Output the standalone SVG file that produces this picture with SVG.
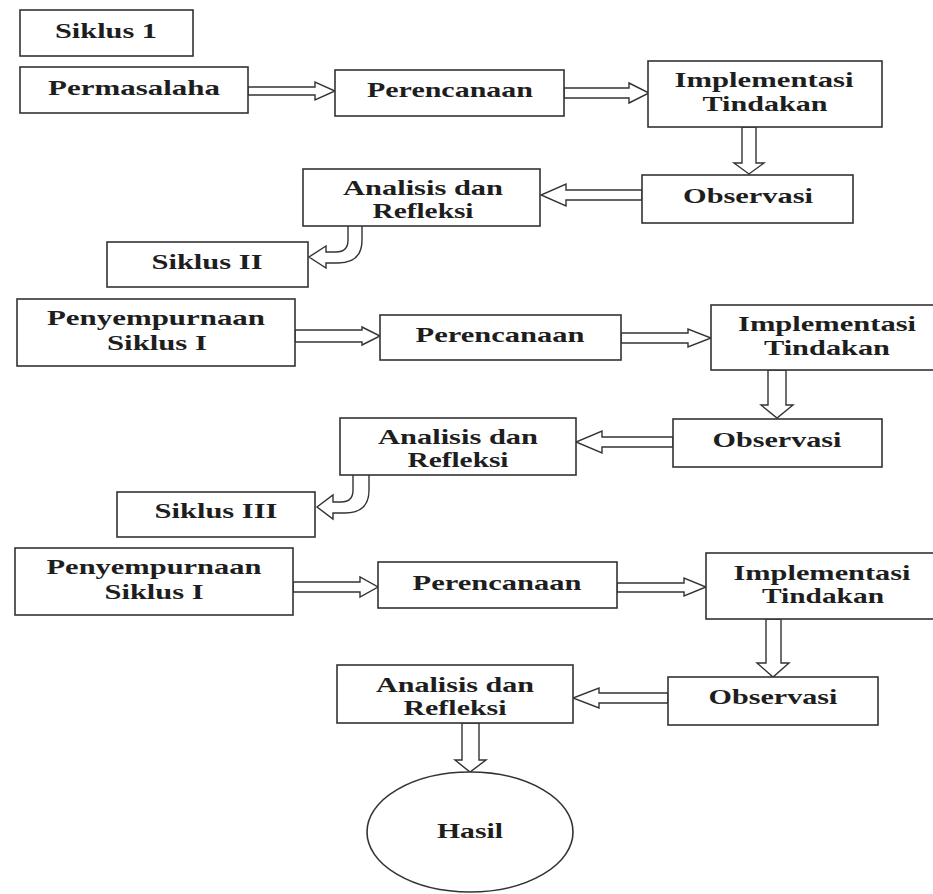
<svg xmlns="http://www.w3.org/2000/svg" width="933" height="894" viewBox="0 0 933 894">
<style>
.box{fill:#fff;stroke:#333;stroke-width:1.6}
.arr{fill:#fff;stroke:#333;stroke-width:1.4;stroke-linejoin:miter}
text{font-family:"Liberation Serif","Times New Roman",serif;font-weight:bold;font-size:22px;fill:#1e1e1e;text-anchor:middle}
</style>
<rect width="933" height="894" fill="#fff"/>
<g id="connectors">
<path class="arr" d="M248,87 L315,87 L315,82 L335,91 L315,100 L315,95 L248,95 Z"/>
<path class="arr" d="M564,88 L629,88 L629,83 L649,93 L629,103 L629,98 L564,98 Z"/>
<path class="arr" d="M742,127 L742,163 L734,163 L749,174 L764,163 L756,163 L756,127 Z"/>
<path class="arr" d="M642,190 L566,190 L566,184 L541,195 L566,206 L566,200 L642,200 Z"/>
<path class="arr" d="M348,226 L348,240 Q348,252 336,252 L326,252 L326,246 L309,257 L326,268 L326,263 L338,263 Q362,263 362,240 L362,226"/>
<path class="arr" d="M295,330 L362,330 L362,327 L380,336 L362,345 L362,342 L295,342 Z"/>
<path class="arr" d="M621,333 L688,333 L688,329 L711,338 L688,347 L688,343 L621,343 Z"/>
<path class="arr" d="M768,370 L768,405 L761,405 L777,418 L793,405 L786,405 L786,370 Z"/>
<path class="arr" d="M673,437 L602,437 L602,431 L576,442 L602,453 L602,447 L673,447 Z"/>
<path class="arr" d="M353,475 L353,490 Q353,502 341,502 L333,502 L333,495 L317,507 L333,519 L333,513 L345,513 Q369,513 369,490 L369,475"/>
<path class="arr" d="M293,582 L360,582 L360,577 L378,587 L360,597 L360,592 L293,592 Z"/>
<path class="arr" d="M617,583 L684,583 L684,578 L706,587 L684,596 L684,592 L617,592 Z"/>
<path class="arr" d="M766,619 L766,663 L757,663 L773,677 L789,663 L781,663 L781,619 Z"/>
<path class="arr" d="M668,693 L599,693 L599,688 L573,698 L599,708 L599,703 L668,703 Z"/>
<path class="arr" d="M462,723 L462,760 L455,760 L470,772 L486,760 L479,760 L479,723 Z"/>
</g>
<g id="siklus1"><rect class="box" x="20" y="10" width="173" height="46"/><text x="106" y="38" textLength="102" lengthAdjust="spacingAndGlyphs">Siklus 1</text></g>
<g id="permasalaha"><rect class="box" x="20" y="67" width="228" height="46"/><text x="134" y="95" textLength="172" lengthAdjust="spacingAndGlyphs">Permasalaha</text></g>
<g id="perencanaan1"><rect class="box" x="335" y="70" width="229" height="46"/><text x="450" y="97" textLength="166" lengthAdjust="spacingAndGlyphs">Perencanaan</text></g>
<g id="implementasi1"><rect class="box" x="648" y="61" width="234" height="66"/><text x="764" y="87" textLength="179" lengthAdjust="spacingAndGlyphs">Implementasi</text><text x="765" y="111" textLength="125" lengthAdjust="spacingAndGlyphs">Tindakan</text></g>
<g id="observasi1"><rect class="box" x="642" y="175" width="211" height="48"/><text x="748" y="203" textLength="130" lengthAdjust="spacingAndGlyphs">Observasi</text></g>
<g id="analisis1"><rect class="box" x="303" y="169" width="237" height="57"/><text x="423" y="195" textLength="160" lengthAdjust="spacingAndGlyphs">Analisis dan</text><text x="423" y="218" textLength="101" lengthAdjust="spacingAndGlyphs">Refleksi</text></g>
<g id="siklus2"><rect class="box" x="107" y="242" width="201" height="45"/><text x="207" y="269" textLength="111" lengthAdjust="spacingAndGlyphs">Siklus II</text></g>
<g id="penyempurnaan2"><rect class="box" x="17" y="299" width="278" height="67"/><text x="156" y="325" textLength="218" lengthAdjust="spacingAndGlyphs">Penyempurnaan</text><text x="157" y="350" textLength="100" lengthAdjust="spacingAndGlyphs">Siklus I</text></g>
<g id="perencanaan2"><rect class="box" x="380" y="315" width="241" height="45"/><text x="500" y="342" textLength="169" lengthAdjust="spacingAndGlyphs">Perencanaan</text></g>
<g id="implementasi2"><rect class="box" x="711" y="305" width="232" height="65"/><text x="827" y="331" textLength="178" lengthAdjust="spacingAndGlyphs">Implementasi</text><text x="827" y="355" textLength="126" lengthAdjust="spacingAndGlyphs">Tindakan</text></g>
<g id="observasi2"><rect class="box" x="673" y="419" width="209" height="48"/><text x="777" y="447" textLength="129" lengthAdjust="spacingAndGlyphs">Observasi</text></g>
<g id="analisis2"><rect class="box" x="340" y="418" width="236" height="57"/><text x="458" y="444" textLength="160" lengthAdjust="spacingAndGlyphs">Analisis dan</text><text x="458" y="467" textLength="101" lengthAdjust="spacingAndGlyphs">Refleksi</text></g>
<g id="siklus3"><rect class="box" x="117" y="492" width="198" height="45"/><text x="216" y="518" textLength="123" lengthAdjust="spacingAndGlyphs">Siklus III</text></g>
<g id="penyempurnaan3"><rect class="box" x="15" y="548" width="278" height="67"/><text x="154" y="574" textLength="215" lengthAdjust="spacingAndGlyphs">Penyempurnaan</text><text x="154" y="599" textLength="99" lengthAdjust="spacingAndGlyphs">Siklus I</text></g>
<g id="perencanaan3"><rect class="box" x="378" y="562" width="239" height="46"/><text x="497" y="590" textLength="169" lengthAdjust="spacingAndGlyphs">Perencanaan</text></g>
<g id="implementasi3"><rect class="box" x="706" y="553" width="237" height="66"/><text x="822" y="580" textLength="177" lengthAdjust="spacingAndGlyphs">Implementasi</text><text x="823" y="603" textLength="122" lengthAdjust="spacingAndGlyphs">Tindakan</text></g>
<g id="observasi3"><rect class="box" x="668" y="677" width="210" height="48"/><text x="773" y="704" textLength="129" lengthAdjust="spacingAndGlyphs">Observasi</text></g>
<g id="analisis3"><rect class="box" x="337" y="665" width="236" height="58"/><text x="455" y="692" textLength="158" lengthAdjust="spacingAndGlyphs">Analisis dan</text><text x="455" y="715" textLength="103" lengthAdjust="spacingAndGlyphs">Refleksi</text></g>
<g id="hasil"><ellipse class="box" cx="470" cy="832" rx="103" ry="60"/><text x="470" y="838" textLength="66" lengthAdjust="spacingAndGlyphs">Hasil</text></g>
</svg>
